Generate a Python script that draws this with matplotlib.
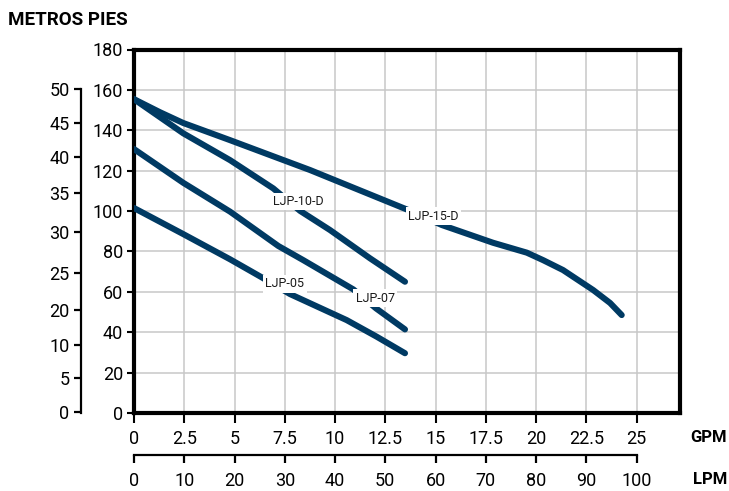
import matplotlib
matplotlib.use("Agg")
import matplotlib.pyplot as plt

FONT = ['Roboto', 'DejaVu Sans']
plt.rcParams['font.family'] = FONT

# ---------------- data ----------------
gpm_ticks = [0, 2.5, 5, 7.5, 10, 12.5, 15, 17.5, 20, 22.5, 25]
gpm_labels = ["0", "2.5", "5", "7.5", "10", "12.5", "15", "17.5", "20", "22.5", "25"]
lpm_ticks = [0, 10, 20, 30, 40, 50, 60, 70, 80, 90, 100]
pies_ticks = [0, 20, 40, 60, 80, 100, 120, 140, 160, 180]
metros_labels = ["0", "5", "10", "20", "25", "30", "35", "40", "45", "50"]

ljp15d_x = [0, 1.3, 2.45, 4.78, 8.76, 13.57, 15.31, 17.86, 19.54, 20.35, 21.34, 22.84, 23.68, 24.26]
ljp15d_y = [155.4, 148.9, 143.6, 135.1, 120.3, 100.8, 93.1, 84.3, 79.4, 75.7, 70.8, 60.9, 54.5, 48.5]

ljp10d_x = [0, 2.45, 4.78, 6.93, 8.26, 9.75, 11.74, 13.48]
ljp10d_y = [155.4, 138.5, 125.2, 111.2, 100.1, 90.6, 76.6, 65.0]

ljp07_x = [0, 2.45, 4.78, 7.18, 8.42, 10.91, 12.04, 13.48]
ljp07_y = [130.7, 114.0, 99.7, 82.7, 75.7, 61.2, 51.8, 41.4]

ljp05_x = [0, 2.45, 4.78, 6.35, 7.76, 10.58, 12.07, 13.48]
ljp05_y = [101.5, 88.6, 76.1, 67.2, 58.9, 46.0, 37.8, 29.6]

series_names = ["LJP-15-D", "LJP-10-D", "LJP-07", "LJP-05"]
label_x = [14.90, 8.16, 11.99, 7.51]
label_y = [97.5, 104.6, 56.9, 63.9]

# ---------------- layout ----------------
W, H = 729, 491
fig = plt.figure(figsize=(W / 100, H / 100), dpi=100)

def fx(px):
    return px / W

def fy(py):
    return 1 - py / H

XMAX = 27.16
L, R, T, B = 134, 680, 49.5, 413
ax = fig.add_axes([fx(L), fy(B), fx(R) - fx(L), fy(T) - fy(B)])
ax.set_xlim(0, XMAX)
ax.set_ylim(0, 180)

line_color = '#003a63'
for xs, ys in [(ljp15d_x, ljp15d_y), (ljp10d_x, ljp10d_y), (ljp07_x, ljp07_y), (ljp05_x, ljp05_y)]:
    ax.plot(xs, ys, color=line_color, lw=4.4, solid_capstyle='round',
            solid_joinstyle='round', zorder=3)

for name, lx, ly in zip(series_names, label_x, label_y):
    ax.text(lx, ly, name, ha='center', va='center', fontsize=9, color='#1a1a1a',
            family=FONT, zorder=5,
            bbox=dict(facecolor='white', edgecolor='none', pad=1.5))

ax.set_xticks(gpm_ticks)
ax.set_xticklabels(gpm_labels)
ax.set_yticks(pies_ticks)
ax.set_yticklabels([str(v) for v in pies_ticks])
ax.grid(True, color='#c8c8c8', lw=1.1, zorder=0)
for s in ax.spines.values():
    s.set_linewidth(3)
    s.set_color('black')
ax.tick_params(axis='x', direction='out', length=7, width=1.5, pad=5, labelsize=13)
ax.tick_params(axis='y', direction='out', length=5, width=1.5, pad=3, labelsize=13)

# LPM axis
lpm_y = 455
ax_l = fig.add_axes([fx(L), fy(lpm_y), fx(R) - fx(L), 0.0001])
ax_l.set_xlim(0, XMAX * 4)
ax_l.set_ylim(0, 1)
for k in ['top', 'left', 'right']:
    ax_l.spines[k].set_visible(False)
ax_l.spines['bottom'].set_bounds(0, 100)
ax_l.spines['bottom'].set_linewidth(1.6)
ax_l.set_yticks([])
ax_l.set_xticks(lpm_ticks)
ax_l.set_xticklabels([str(v) for v in lpm_ticks])
ax_l.tick_params(axis='x', direction='out', length=6, width=1.6, pad=6, labelsize=13)
ax_l.patch.set_visible(False)

# METROS axis
metros_pos = [0.5, 17.3, 33.7, 51.0, 69.3, 89.6, 108.9, 126.7, 143.6, 160.4]
mx = 80.7
ax_m = fig.add_axes([fx(mx), fy(B), 0.0001, fy(T) - fy(B)])
ax_m.set_ylim(0, 180)
ax_m.set_xlim(0, 1)
for k in ['top', 'bottom', 'right']:
    ax_m.spines[k].set_visible(False)
ax_m.spines['left'].set_bounds(0, 160.4)
ax_m.spines['left'].set_linewidth(1.6)
ax_m.set_xticks([])
ax_m.set_yticks(metros_pos)
ax_m.set_yticklabels(metros_labels)
ax_m.tick_params(axis='y', direction='out', length=5, width=1.6, pad=3, labelsize=13)
ax_m.patch.set_visible(False)

# titles
fig.text(fx(8), fy(20), "METROS PIES", ha='left', va='center', fontsize=13.5,
         fontweight='bold', family=FONT)
fig.text(fx(727), fy(437), "GPM", ha='right', va='center', fontsize=12,
         fontweight='bold', family=FONT)
fig.text(fx(727), fy(480), "LPM", ha='right', va='center', fontsize=12,
         fontweight='bold', family=FONT)

fig.savefig("out.png", dpi=100)
